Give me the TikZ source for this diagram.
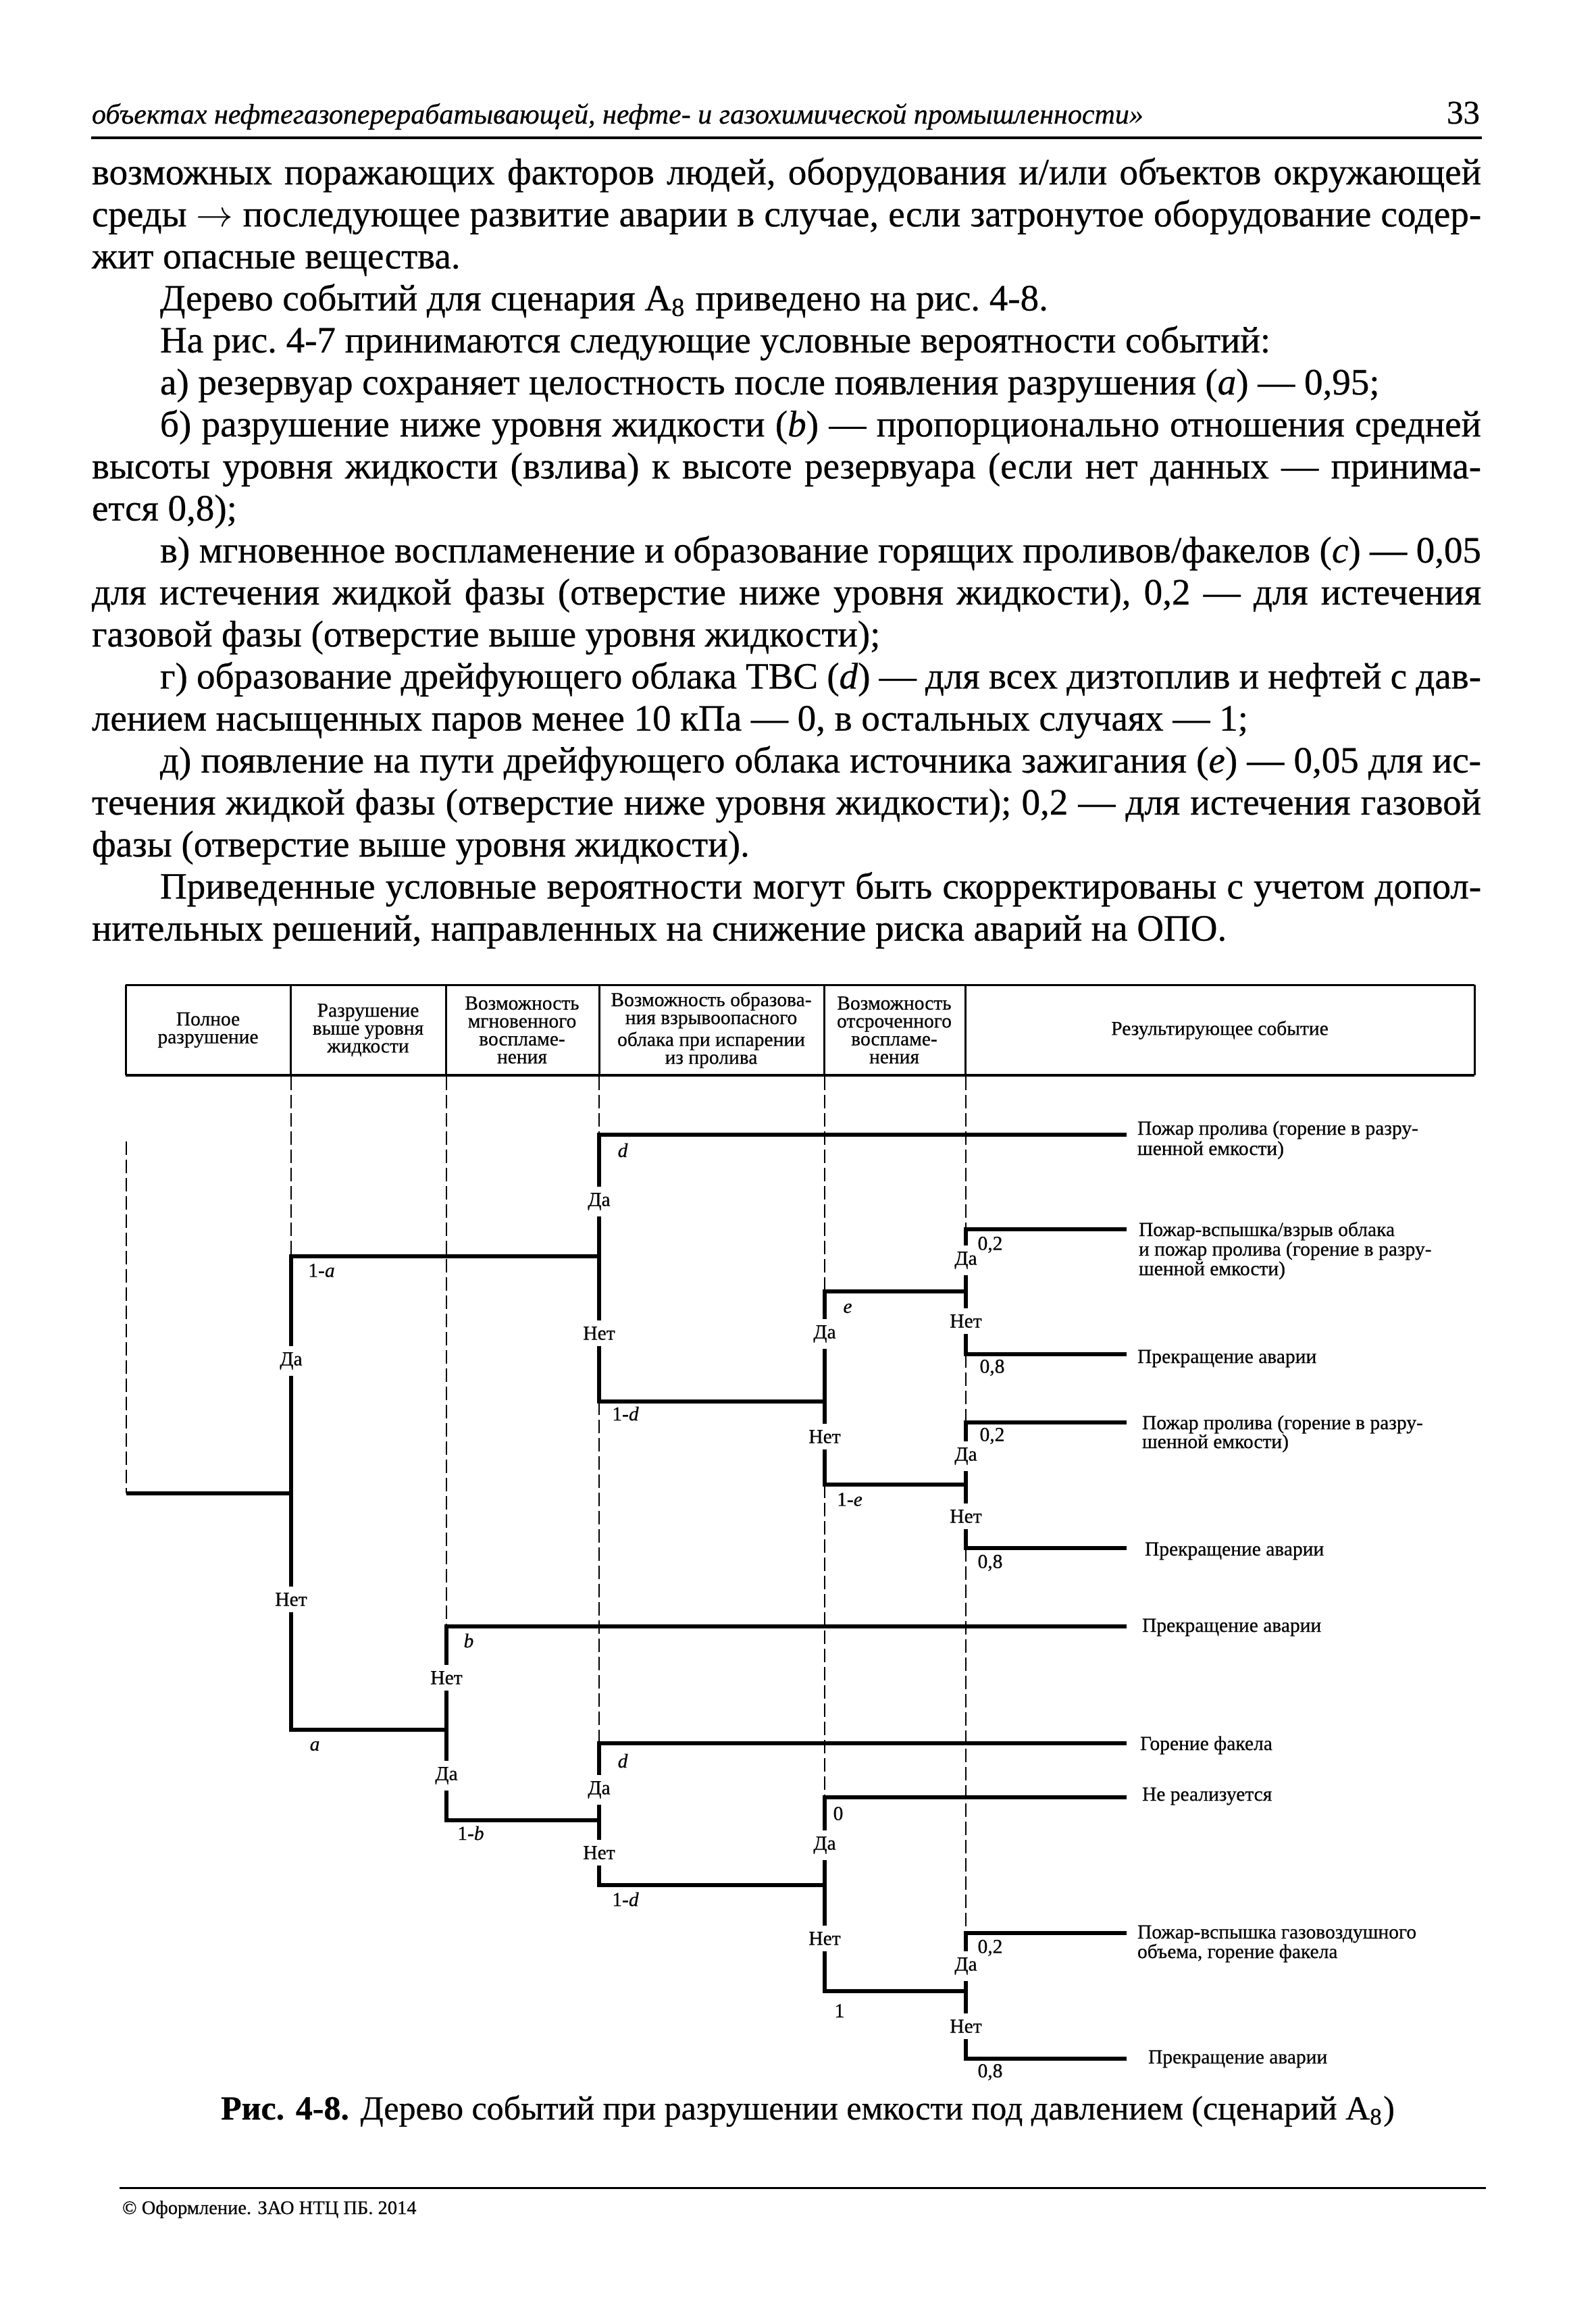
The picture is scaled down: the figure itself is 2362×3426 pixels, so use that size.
\documentclass[tikz,border=0pt]{standalone}
\usepackage{fontspec}
\setmainfont[FakeBold=0.5]{Liberation Serif}
\newlength\tw \setlength\tw{411.4pt}
\newcommand\JL[1]{\hbox to \tw{#1}}
\newcommand\JI[1]{\hbox to \tw{\hskip20.2pt #1}}
\newcommand\LL[1]{\hbox{#1}}
\newcommand\LI[1]{\hbox{\hskip20.2pt #1}}
\tikzset{
 tl/.style={line width=1.15pt, line join=miter, line cap=butt},
 guide/.style={line width=0.35pt, dash pattern=on 4pt off 1.4pt},
 frame/.style={line width=0.6pt},
 lab/.style={font=\fontsize{5.9}{6}\selectfont, inner sep=0pt},
 yn/.style={font=\fontsize{5.9}{6}\selectfont, fill=white, inner xsep=0.6pt, inner ysep=1.8pt},
 res/.style={font=\fontsize{5.9}{6}\selectfont, anchor=base west, inner sep=0pt},
 th/.style={font=\fontsize{5.9}{5.3}\selectfont, align=center, inner sep=0pt},
}
\begin{document}
\begin{tikzpicture}[x=0.2pt,y=-0.2pt]
\fill[white] (0,0) rectangle (2362,3426);
\useasboundingbox (0,0) rectangle (2362,3426);

% running header
\node[anchor=base west, inner sep=0pt, font=\fontsize{8.4}{10}\selectfont\itshape] (hdr) at (135,183)
 {объектах нефтегазоперерабатывающей, нефте- и газохимической промышленности»};
\node[anchor=base east, inner sep=0pt, font=\fontsize{9.8}{10}\selectfont] (pg) at (2192,183) {33};
\draw[line width=0.8pt] (135,204) -- (2194,204);

% body text
\node[anchor=base west, inner sep=0pt] (body) at (135,273) {\vtop{\fontsize{11.0}{12.44}\selectfont
 \spaceskip=0.25em plus 0.4em minus 0.1em \frenchspacing \baselineskip=12.44pt \lineskiplimit=-20pt
 \JL{возможных поражающих факторов людей, оборудования и/или объектов окружающей}
 \JL{среды $\rightarrow$ последующее развитие аварии в случае, если затронутое оборудование содер-}
 \LL{жит опасные вещества.}
 \LI{Дерево событий для сценария А\textsubscript{8} приведено на рис. 4-8.}
 \LI{На рис. 4-7 принимаются следующие условные вероятности событий:}
 \LI{а) резервуар сохраняет целостность после появления разрушения (\textit{a}) — 0,95;}
 \JI{б) разрушение ниже уровня жидкости (\textit{b}) — пропорционально отношения средней}
 \JL{высоты уровня жидкости (взлива) к высоте резервуара (если нет данных — принима-}
 \LL{ется 0,8);}
 \JI{в) мгновенное воспламенение и образование горящих проливов/факелов (\textit{c}) — 0,05}
 \JL{для истечения жидкой фазы (отверстие ниже уровня жидкости), 0,2 — для истечения}
 \LL{газовой фазы (отверстие выше уровня жидкости);}
 \JI{г) образование дрейфующего облака ТВС (\textit{d}) — для всех дизтоплив и нефтей с дав-}
 \LL{лением насыщенных паров менее 10 кПа — 0, в остальных случаях — 1;}
 \JI{д) появление на пути дрейфующего облака источника зажигания (\textit{e}) — 0,05 для ис-}
 \JL{течения жидкой фазы (отверстие ниже уровня жидкости); 0,2 — для истечения газовой}
 \LL{фазы (отверстие выше уровня жидкости).}
 \JI{Приведенные условные вероятности могут быть скорректированы с учетом допол-}
 \LL{нительных решений, направленных на снижение риска аварий на ОПО.}
}};

% table header
\draw[frame] (186,1458) -- (2183,1458);
\draw[line width=0.8pt] (186,1592) -- (2183,1592);
\foreach \x in {186,430,660,887,1220,1429,2183} \draw[frame] (\x,1458) -- (\x,1592);
\node[th] (h1) at (308,1525) {Полное\\разрушение};
\node[th] (h2) at (545,1525) {Разрушение\\выше уровня\\жидкости};
\node[th] (h3) at (773,1525) {Возможность\\мгновенного\\воспламе-\\нения};
\node[th] (h4) at (1053,1525) {Возможность образова-\\ния взрывоопасного\\облака при испарении\\из пролива};
\node[th] (h5) at (1324,1525) {Возможность\\отсроченного\\воспламе-\\нения};
\node[th] (h6) at (1806,1525) {Результирующее событие};

% guide lines
\draw[guide] (187,1690) -- (187,2211);
\draw[guide] (431,1594) -- (431,1860);
\draw[guide] (661,1594) -- (661,2408);
\draw[guide] (887,1594) -- (887,1680);
\draw[guide] (887,2075) -- (887,2581);
\draw[guide] (1221,1594) -- (1221,1912);
\draw[guide] (1221,2198) -- (1221,2661);
\draw[guide] (1430,1594) -- (1430,1820);
\draw[guide] (1430,2005) -- (1430,2106);
\draw[guide] (1430,2292) -- (1430,2862);

% tree junctions
\coordinate (R) at (187,2211);
\coordinate (N1) at (431,2211);
\coordinate (N3a) at (887,1860);
\coordinate (N2) at (661,2561);
\coordinate (N4a) at (1221,2075);
\coordinate (N5a) at (1430,1912);
\coordinate (N5b) at (1430,2198);
\coordinate (N3b) at (887,2695);
\coordinate (N4b) at (1221,2791);
\coordinate (N5c) at (1430,2948);
\coordinate (E1) at (1668,1680);
\coordinate (E2) at (1668,1820);
\coordinate (E3) at (1668,2005);
\coordinate (E4) at (1668,2106);
\coordinate (E5) at (1668,2292);
\coordinate (E6) at (1668,2408);
\coordinate (E7) at (1668,2581);
\coordinate (E8) at (1668,2661);
\coordinate (E9) at (1668,2862);
\coordinate (E10) at (1668,3048);

\draw[tl] (R) -- (N1);
\draw[tl] (N1) |- (N3a);
\draw[tl] (N1) |- (N2);
\draw[tl] (N3a) |- (E1);
\draw[tl] (N3a) |- (N4a);
\draw[tl] (N4a) |- (N5a);
\draw[tl] (N4a) |- (N5b);
\draw[tl] (N5a) |- (E2);
\draw[tl] (N5a) |- (E3);
\draw[tl] (N5b) |- (E4);
\draw[tl] (N5b) |- (E5);
\draw[tl] (N2) |- (E6);
\draw[tl] (N2) |- (N3b);
\draw[tl] (N3b) |- (E7);
\draw[tl] (N3b) |- (N4b);
\draw[tl] (N4b) |- (E8);
\draw[tl] (N4b) |- (N5c);
\draw[tl] (N5c) |- (E9);
\draw[tl] (N5c) |- (E10);

% yes / no labels
\node[yn] (y1) at (431,2015) {Да};
\node[yn] (n1) at (431,2368) {Нет};
\node[yn] (y3a) at (887,1779) {Да};
\node[yn] (n3a) at (887,1974) {Нет};
\node[yn] (y4a) at (1221,1975) {Да};
\node[yn] (n4a) at (1221,2127) {Нет};
\node[yn] (y5a) at (1430,1866) {Да};
\node[yn] (n5a) at (1430,1956) {Нет};
\node[yn] (y5b) at (1430,2156) {Да};
\node[yn] (n5b) at (1430,2245) {Нет};
\node[yn] (n2) at (661,2484) {Нет};
\node[yn] (y2) at (661,2629) {Да};
\node[yn] (y3b) at (887,2650) {Да};
\node[yn] (n3b) at (887,2743) {Нет};
\node[yn] (y4b) at (1221,2732) {Да};
\node[yn] (n4b) at (1221,2870) {Нет};
\node[yn] (y5c) at (1430,2911) {Да};
\node[yn] (n5c) at (1430,3000) {Нет};

% probability labels
\node[lab] (p1) at (476,1881) {1-\textit{a}};
\node[lab] (p2) at (466,2585) {\textit{a}};
\node[lab] (p3) at (922,1703) {\textit{d}};
\node[lab] (p4) at (926,2093) {1-\textit{d}};
\node[lab] (p5) at (1255,1937) {\textit{e}};
\node[lab] (p6) at (1258,2220) {1-\textit{e}};
\node[lab] (p7) at (1466,1843) {0,2};
\node[lab] (p8) at (1469,2025) {0,8};
\node[lab] (p9) at (1469,2126) {0,2};
\node[lab] (p10) at (1466,2314) {0,8};
\node[lab] (p11) at (694,2429) {\textit{b}};
\node[lab] (p12) at (697,2714) {1-\textit{b}};
\node[lab] (p13) at (922,2607) {\textit{d}};
\node[lab] (p14) at (926,2812) {1-\textit{d}};
\node[lab] (p15) at (1241,2685) {0};
\node[lab] (p16) at (1243,2977) {1};
\node[lab] (p17) at (1466,2884) {0,2};
\node[lab] (p18) at (1466,3068) {0,8};

% resulting events
\node[res] (r1a) at (1683,1680) {Пожар пролива (горение в разру-};
\node[res] (r1b) at (1683,1710) {шенной емкости)};
\node[res] (r2a) at (1685,1830) {Пожар-вспышка/взрыв облака};
\node[res] (r2b) at (1685,1859) {и пожар пролива (горение в разру-};
\node[res] (r2c) at (1685,1888) {шенной емкости)};
\node[res] (r3) at (1683,2018) {Прекращение аварии};
\node[res] (r4a) at (1690,2116) {Пожар пролива (горение в разру-};
\node[res] (r4b) at (1690,2144) {шенной емкости)};
\node[res] (r5) at (1694,2303) {Прекращение аварии};
\node[res] (r6) at (1690,2416) {Прекращение аварии};
\node[res] (r7) at (1687,2591) {Горение факела};
\node[res] (r8) at (1690,2666) {Не реализуется};
\node[res] (r9a) at (1683,2870) {Пожар-вспышка газовоздушного};
\node[res] (r9b) at (1683,2899) {объема, горение факела};
\node[res] (r10) at (1699,3055) {Прекращение аварии};

% caption
\node[anchor=base, inner sep=0pt, font=\fontsize{10.0}{12}\selectfont] (cap) at (1196,3138)
 {\textbf{Рис. 4-8.} Дерево событий при разрушении емкости под давлением (сценарий А\textsubscript{8})};

% footer
\draw[line width=0.6pt] (177,3239) -- (2200,3239);
\node[anchor=base west, inner sep=0pt, font=\fontsize{5.7}{7}\selectfont] (ftr) at (180,3278)
 {© Оформление. ЗАО НТЦ ПБ. 2014};
\end{tikzpicture}
\end{document}
